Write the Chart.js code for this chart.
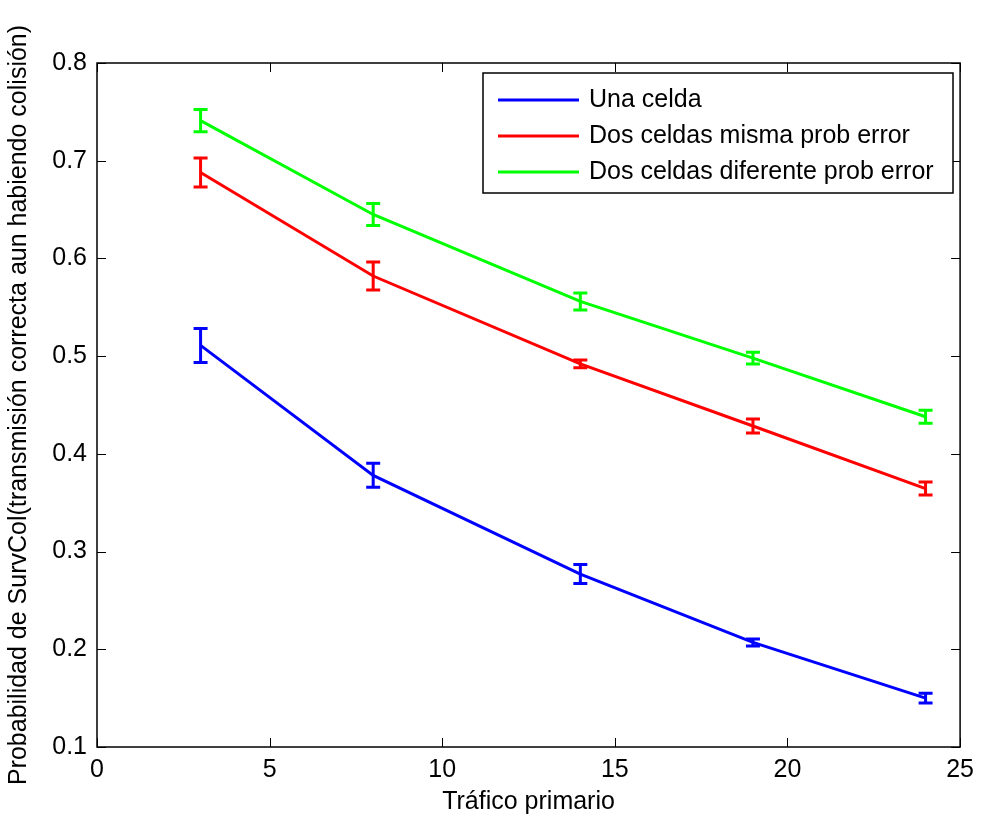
<!DOCTYPE html>
<html>
<head>
<meta charset="utf-8">
<script src="https://cdn.jsdelivr.net/npm/chart.js@4.4.1/dist/chart.umd.min.js"></script>
<style>
  html, body { margin: 0; padding: 0; background: #fff; }
  #wrap { width: 982px; height: 816px; }
</style>
</head>
<body>
<div id="wrap"><canvas id="chart"></canvas></div>
<script>
var trafico = [3, 8, 14, 19, 24];

var unaCelda = [0.511, 0.378, 0.277, 0.207, 0.150];
var unaCeldaErr = [0.0174, 0.0123, 0.0097, 0.0036, 0.005];

var dosMisma = [0.688, 0.582, 0.492, 0.4285, 0.3645];
var dosMismaErr = [0.0149, 0.0143, 0.004, 0.0072, 0.0067];

var dosDiferente = [0.741, 0.645, 0.556, 0.498, 0.438];
var dosDiferenteErr = [0.0113, 0.0113, 0.0087, 0.006, 0.0067];

var xTicks = [0, 5, 10, 15, 20, 25];
var yTicks = [0.1, 0.2, 0.3, 0.4, 0.5, 0.6, 0.7, 0.8];

var font = '"Liberation Sans", Arial, sans-serif';
var fsize = 25;

function pts(ys) {
	var out = [];
	for (var i in trafico) {
		out.push({x: trafico[i], y: ys[i]});
	}
	return out;
}

var chartdata = {
	datasets: [
		{ label: 'Una celda', data: pts(unaCelda), errs: unaCeldaErr, borderColor: '#0000ff' },
		{ label: 'Dos celdas misma prob error', data: pts(dosMisma), errs: dosMismaErr, borderColor: '#ff0000' },
		{ label: 'Dos celdas diferente prob error', data: pts(dosDiferente), errs: dosDiferenteErr, borderColor: '#00ff00' }
	]
};

// error bars, box, inward ticks, legend
var matlabPlugin = {
	id: 'matlab',
	afterDatasetsDraw: function(chart) {
		var ctx = chart.ctx;
		var xs = chart.scales.x, ys = chart.scales.y;
		ctx.save();
		chart.data.datasets.forEach(function(ds) {
			ctx.strokeStyle = ds.borderColor;
			ctx.lineWidth = 3;
			ds.data.forEach(function(p, i) {
				var px = xs.getPixelForValue(p.x);
				var top = ys.getPixelForValue(p.y + ds.errs[i]);
				var bot = ys.getPixelForValue(p.y - ds.errs[i]);
				ctx.beginPath();
				ctx.moveTo(px, top); ctx.lineTo(px, bot);
				ctx.moveTo(px - 7, top); ctx.lineTo(px + 7, top);
				ctx.moveTo(px - 7, bot); ctx.lineTo(px + 7, bot);
				ctx.stroke();
			});
		});
		ctx.restore();
	},
	afterDraw: function(chart) {
		var ctx = chart.ctx;
		var a = chart.chartArea;
		var xs = chart.scales.x, ys = chart.scales.y;
		ctx.save();
		ctx.strokeStyle = '#000';
		ctx.lineWidth = 1.5;
		ctx.strokeRect(a.left, a.top, a.right - a.left, a.bottom - a.top);
		ctx.lineWidth = 1;
		ctx.beginPath();
		xTicks.forEach(function(v) {
			var px = Math.round(xs.getPixelForValue(v)) + 0.5;
			ctx.moveTo(px, a.bottom); ctx.lineTo(px, a.bottom - 9);
			ctx.moveTo(px, a.top); ctx.lineTo(px, a.top + 9);
		});
		yTicks.forEach(function(v) {
			var py = Math.round(ys.getPixelForValue(v)) + 0.5;
			ctx.moveTo(a.left, py); ctx.lineTo(a.left + 9, py);
			ctx.moveTo(a.right, py); ctx.lineTo(a.right - 9, py);
		});
		ctx.stroke();

		// legend box
		var lx = 483, ly = 73, lw = 470, lh = 120;
		ctx.fillStyle = '#fff';
		ctx.fillRect(lx, ly, lw, lh);
		ctx.lineWidth = 1.5;
		ctx.strokeRect(lx, ly, lw, lh);
		ctx.font = fsize + 'px ' + font;
		ctx.textBaseline = 'middle';
		chart.data.datasets.forEach(function(ds, i) {
			var y = ly + 27 + i * 36;
			ctx.strokeStyle = ds.borderColor;
			ctx.lineWidth = 3;
			ctx.beginPath();
			ctx.moveTo(lx + 15, y); ctx.lineTo(lx + 96, y);
			ctx.stroke();
			ctx.fillStyle = '#000';
			ctx.fillText(ds.label, lx + 106, y);
		});
		ctx.restore();
	}
};

var ctx = document.getElementById('chart').getContext('2d');
var lineGraph = new Chart(ctx, {
	type: 'line',
	data: chartdata,
	plugins: [matlabPlugin],
	options: {
		responsive: true,
		maintainAspectRatio: false,
		animation: false,
		layout: { padding: { top: 63, right: 18, left: 0, bottom: 0 } },
		elements: {
			line: { borderWidth: 3, tension: 0, fill: false },
			point: { radius: 0 }
		},
		plugins: {
			legend: { display: false },
			tooltip: { enabled: false }
		},
		scales: {
			x: {
				type: 'linear',
				min: 0, max: 25,
				afterBuildTicks: function(s) { s.ticks = xTicks.map(function(v) { return {value: v}; }); },
				afterFit: function(s) { s.height = 69; },
				grid: { display: false, drawTicks: false },
				border: { display: false },
				ticks: { color: '#000', font: { family: font, size: fsize }, padding: 8 },
				title: { display: true, text: 'Tráfico primario', color: '#000', font: { family: font, size: fsize }, padding: { top: 0, bottom: -1 } }
			},
			y: {
				type: 'linear',
				min: 0.1, max: 0.8,
				afterBuildTicks: function(s) { s.ticks = yTicks.map(function(v) { return {value: v}; }); },
				afterFit: function(s) { s.width = 97; },
				grid: { display: false, drawTicks: false },
				border: { display: false },
				ticks: {
					color: '#000', font: { family: font, size: fsize }, padding: 10,
					callback: function(v) { return v.toFixed(1); }
				},
				title: { display: true, text: 'Probabilidad de SurvCol(transmisión correcta aun habiendo colisión)', color: '#000', font: { family: font, size: fsize }, padding: { bottom: 0 } }
			}
		}
	}
});
</script>
</body>
</html>
